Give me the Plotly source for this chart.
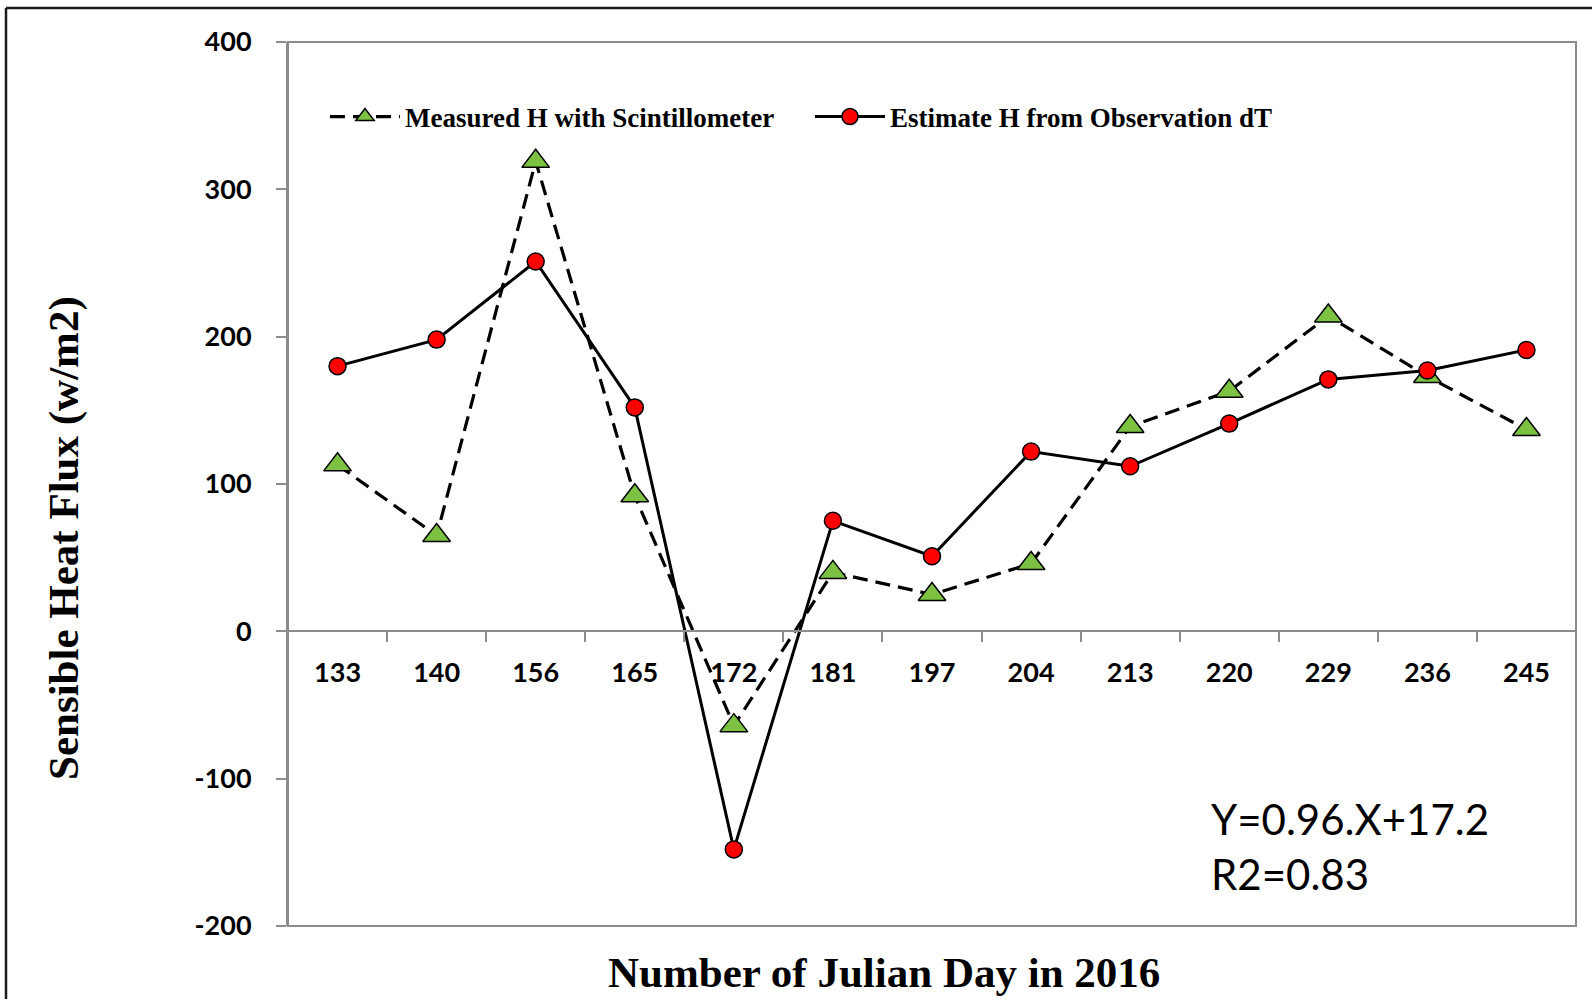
import plotly.graph_objects as go

days = ["133", "140", "156", "165", "172", "181", "197", "204", "213", "220", "229", "236", "245"]
measured_h = [113, 65, 319, 92, -64, 40, 25, 46, 139, 163, 214, 173, 137]
estimated_h = [180, 198, 251, 152, -148, 75, 51, 122, 112, 141, 171, 177, 191]
y_ticks = [-200, -100, 0, 100, 200, 300, 400]
y_tick_labels = ["-200", "-100", "0", "100", "200", "300", "400"]

W, H = 1592, 999
L, R, T, B = 288, 1576, 42, 926   # plot area in screen pixels
pw, ph = R - L, B - T

def px(x):
    return (x - L) / pw

def py(y):
    return (B - y) / ph

fig = go.Figure()
fig.add_trace(go.Scatter(
    x=days, y=measured_h, name="Measured H with Scintillometer",
    mode="lines+markers",
    line=dict(color="black", width=3.2, dash="15px,8px"),
    marker=dict(symbol="triangle-up", size=24, color="#7CC142",
                line=dict(color="black", width=1.5)),
))
fig.add_trace(go.Scatter(
    x=days, y=estimated_h, name="Estimate H from Observation dT",
    mode="lines+markers",
    line=dict(color="black", width=3),
    marker=dict(symbol="circle", size=17, color="#FF0000",
                line=dict(color="black", width=1.5)),
))

grey = "#8C8C8C"
fig.update_layout(
    width=W, height=H,
    margin=dict(l=L, r=W - R, t=T, b=H - B, autoexpand=False),
    paper_bgcolor="white", plot_bgcolor="white",
    showlegend=True,
    legend=dict(orientation="h", x=px(325), y=py(117), xanchor="left", yanchor="middle",
                font=dict(family="Liberation Serif", size=27, color="black", weight="bold"),
                bgcolor="rgba(0,0,0,0)", itemwidth=70,
                entrywidthmode="pixels", entrywidth=400, traceorder="normal"),
    xaxis=dict(
        type="category", anchor="free", position=1/3,
        showline=True, linecolor=grey, linewidth=2,
        ticks="outside", ticklen=10, tickwidth=2, tickcolor=grey,
        tickson="boundaries", showgrid=False, zeroline=False,
        tickfont=dict(family="Lato", size=27, color="black", weight="bold"),
        ticklabelstandoff=17,
        range=[-0.5, 12.5], fixedrange=True,
    ),
    yaxis=dict(
        range=[-200, 400], tickvals=y_ticks, ticktext=y_tick_labels, domain=[0, 1],
        showline=True, linecolor=grey, linewidth=2,
        ticks="outside", ticklen=10, tickwidth=2, tickcolor=grey,
        showgrid=False, zeroline=False,
        tickfont=dict(family="Lato", size=27, color="black", weight="bold"),
        ticklabelstandoff=19,
    ),
)

# plot area box
fig.add_shape(type="rect", xref="paper", yref="paper", x0=0, y0=0, x1=1, y1=1,
              line=dict(color=grey, width=2), layer="below")
# outer border (left and top)
fig.add_shape(type="line", xref="paper", yref="paper", x0=px(6), x1=px(6), y0=py(1100), y1=py(8),
              line=dict(color="#1a1a1a", width=2.5))
fig.add_shape(type="line", xref="paper", yref="paper", x0=px(6), x1=px(1700), y0=py(8), y1=py(8),
              line=dict(color="#1a1a1a", width=2.5))

fig.add_annotation(xref="paper", yref="paper", x=px(884), y=py(972), xanchor="center", yanchor="middle",
                   text="Number of Julian Day in 2016", showarrow=False,
                   font=dict(family="Liberation Serif", size=43, color="black", weight="bold"))
fig.add_annotation(xref="paper", yref="paper", x=px(64), y=py(538), xanchor="center", yanchor="middle",
                   text="Sensible Heat Flux (w/m2)", showarrow=False, textangle=-90,
                   font=dict(family="Liberation Serif", size=43, color="black", weight="bold"))
fig.add_annotation(xref="paper", yref="paper", x=px(1209), y=py(846), xanchor="left", yanchor="middle",
                   text="Y=0.96.X+17.2<br>R2=0.83", showarrow=False, align="left",
                   font=dict(family="Lato", size=42, color="black"))

fig.write_html("out.html",
               config={"displayModeBar": False},
               post_script="document.body.style.margin='0px';document.body.style.overflow='hidden';")
